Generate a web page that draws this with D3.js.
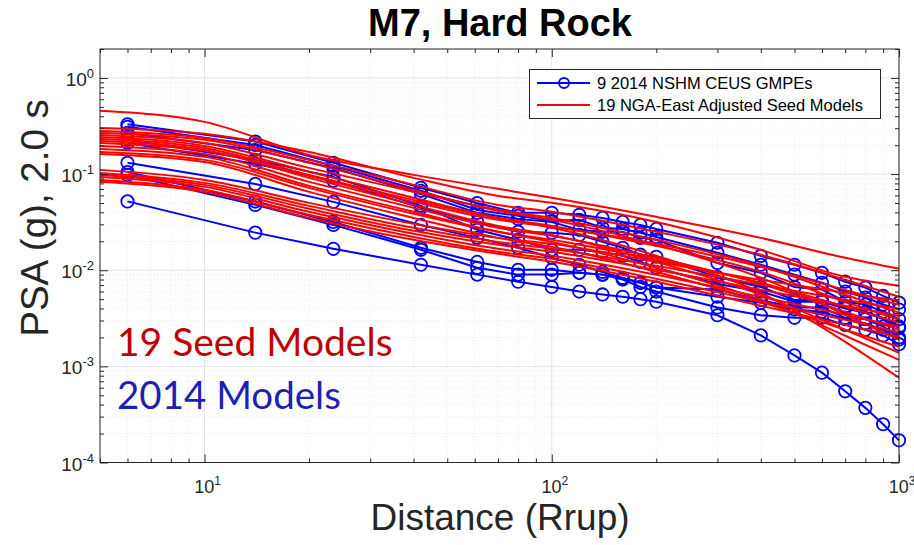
<!DOCTYPE html>
<html><head><meta charset="utf-8">
<script src="https://cdn.jsdelivr.net/npm/d3@7"></script>
<style>body{margin:0;background:#fff}svg{display:block}</style>
</head><body><svg id="chart" width="914" height="545"></svg>
<script>
// ---------- DATA ----------
const blueDistances = [6,14,23.5,42,61,80,100,120,140,160,180,200,300,400,500,600,700,800,900,1000];
const blueModel1 = [0.33,0.218,0.131,0.072,0.050,0.0395,0.0395,0.0377,0.035,0.0318,0.0296,0.0269,0.0193,0.0141,0.0114,0.0094,0.0076,0.0066,0.0054,0.0046];
const blueModel2 = [0.31,0.201,0.122,0.067,0.0424,0.0368,0.0326,0.0334,0.0276,0.0269,0.0245,0.0222,0.0152,0.0114,0.0090,0.0074,0.0060,0.0052,0.0044,0.0039];
const blueModel3 = [0.268,0.178,0.116,0.062,0.0395,0.0342,0.0318,0.0263,0.0251,0.0251,0.0217,0.0207,0.0119,0.0094,0.0067,0.0063,0.0047,0.0044,0.0037,0.0031];
const blueModel4 = [0.211,0.128,0.085,0.0445,0.0318,0.0251,0.0245,0.0233,0.0197,0.0171,0.0145,0.0138,0.0085,0.0067,0.0049,0.0049,0.0042,0.0037,0.0032,0.0026];
const blueModel5 = [0.227,0.1405,0.0935,0.0467,0.0263,0.0207,0.0163,0.0163,0.0155,0.0141,0.0122,0.0106,0.0072,0.0060,0.0047,0.0047,0.0040,0.0036,0.0031,0.0025];
const blueModel6 = [0.131,0.079,0.0514,0.0296,0.0217,0.0171,0.0135,0.0114,0.0096,0.0083,0.0074,0.0066,0.0063,0.0049,0.0041,0.0041,0.0032,0.0031,0.0026,0.0020];
const blueModel7 = [0.105,0.0518,0.0318,0.0171,0.0122,0.0101,0.0101,0.0094,0.0090,0.0080,0.0067,0.0060,0.0041,0.0034,0.0032,0.0032,0.0027,0.0024,0.0021,0.0017];
const blueModel8 = [0.098,0.0478,0.0296,0.0163,0.0106,0.0090,0.0090,0.0094,0.0090,0.0083,0.0074,0.0066,0.0053,0.0046,0.0039,0.0037,0.0031,0.0028,0.0024,0.0019];
const blueModel9 = [0.052,0.0246,0.0167,0.0114,0.0090,0.0076,0.0067,0.0060,0.0056,0.0053,0.0050,0.0047,0.0034,0.0021,0.0013,0.00086,0.00055,0.00037,0.00025,0.00017];

const redDistances = [5,10,20,40,70,100,200,400,700,1000];
const redModel1  = [0.457,0.349,0.158,0.0981,0.0702,0.0566,0.0359,0.0217,0.01345,0.01034];
const redModel2  = [0.302,0.262,0.170,0.0913,0.0593,0.0502,0.0318,0.0163,0.00854,0.00688];
const redModel3  = [0.281,0.238,0.1405,0.0772,0.0478,0.0405,0.0251,0.01446,0.00795,0.00529];
const redModel4  = [0.268,0.227,0.1307,0.0685,0.0415,0.0334,0.01837,0.00834,0.00344,0.00189];
const redModel5  = [0.2555,0.211,0.116,0.0653,0.0425,0.0350,0.0207,0.01111,0.00555,0.00361];
const redModel6  = [0.2436,0.1964,0.1054,0.0566,0.0350,0.0276,0.01412,0.00582,0.00180,0.000761];
const redModel7  = [0.2322,0.1872,0.0981,0.0539,0.0350,0.0289,0.01793,0.00962,0.00469,0.00305];
const redModel8  = [0.2214,0.1785,0.0913,0.0478,0.0289,0.0233,0.01223,0.00555,0.00240,0.001385];
const redModel9  = [0.211,0.1743,0.0958,0.0514,0.0334,0.0283,0.01881,0.01085,0.00625,0.00437];
const redModel10 = [0.1964,0.1622,0.0830,0.0445,0.0276,0.0228,0.01345,0.00722,0.00369,0.00240];
const redModel11 = [0.1828,0.1510,0.0754,0.0405,0.0251,0.0197,0.01059,0.00492,0.00208,0.00117];
const redModel12 = [0.170,0.1405,0.0719,0.0386,0.0251,0.0207,0.01283,0.00740,0.00416,0.00284];
const redModel13 = [0.1622,0.1339,0.0653,0.0350,0.0217,0.01751,0.00962,0.00469,0.00240,0.001598];
const redModel14 = [0.1106,0.0870,0.0502,0.0304,0.0217,0.01881,0.01223,0.00795,0.00582,0.00481];
const redModel15 = [0.1029,0.0810,0.0467,0.0276,0.0197,0.01669,0.01111,0.00705,0.00492,0.00397];
const redModel16 = [0.0981,0.0772,0.0435,0.0257,0.01837,0.01554,0.01010,0.00625,0.00427,0.00336];
const redModel17 = [0.0935,0.0736,0.0405,0.0239,0.01669,0.01412,0.00896,0.00529,0.00344,0.00258];
const redModel18 = [0.0870,0.0685,0.0377,0.0222,0.01554,0.01314,0.00814,0.00469,0.00305,0.00224];
const redModel19 = [0.0830,0.0653,0.0350,0.0207,0.01481,0.01223,0.00758,0.00427,0.00271,0.00203];

const xDomain = [5, 1000];
const yDomain = [1e-4, 2];
const xTickValues = [10, 100, 1000];
const xTickExponents = ["1", "2", "3"];
const yTickValues = [1e-4, 1e-3, 1e-2, 1e-1, 1];
const yTickExponents = ["-4", "-3", "-2", "-1", "0"];
const titleText = "M7, Hard Rock";
const xLabelText = "Distance (Rrup)";
const yLabelText = "PSA (g), 2.0 s";
const legendLabels = ["9 2014 NSHM CEUS GMPEs", "19 NGA-East Adjusted Seed Models"];
const noteLabels = ["19 Seed Models", "2014 Models"];

// ---------- CHART ----------
const blueSeries = [blueModel1,blueModel2,blueModel3,blueModel4,blueModel5,blueModel6,blueModel7,blueModel8,blueModel9];
const redSeries = [redModel1,redModel2,redModel3,redModel4,redModel5,redModel6,redModel7,redModel8,redModel9,redModel10,
  redModel11,redModel12,redModel13,redModel14,redModel15,redModel16,redModel17,redModel18,redModel19];

const L = 100, R = 899, T = 49, B = 462.5;
const svg = d3.select("#chart");
const axisColor = "#262626";
const font = "'Liberation Sans', Arial, Helvetica, sans-serif";

const x = d3.scaleLog().domain(xDomain).range([L, R]);
const y = d3.scaleLog().domain(yDomain).range([B, T]);

function minorTicks(domain) {
  const out = [];
  const lo = Math.floor(Math.log10(domain[0])), hi = Math.ceil(Math.log10(domain[1]));
  for (let e = lo; e <= hi; e++) for (let m = 2; m <= 9; m++) {
    const v = m * Math.pow(10, e);
    if (v >= domain[0] * 0.999 && v <= domain[1] * 1.001) out.push(v);
  }
  return out;
}
const xMinor = minorTicks(xDomain), yMinor = minorTicks(yDomain);

// grid
const grid = svg.append("g");
grid.selectAll(".gxm").data(xMinor).join("line")
  .attr("x1", d => x(d)).attr("x2", d => x(d)).attr("y1", T).attr("y2", B)
  .attr("stroke", "#ebebeb").attr("stroke-width", 1).attr("stroke-dasharray", "1,2");
grid.selectAll(".gym").data(yMinor).join("line")
  .attr("x1", L).attr("x2", R).attr("y1", d => y(d)).attr("y2", d => y(d))
  .attr("stroke", "#ebebeb").attr("stroke-width", 1).attr("stroke-dasharray", "1,2");
grid.selectAll(".gx").data(xTickValues).join("line")
  .attr("x1", d => x(d)).attr("x2", d => x(d)).attr("y1", T).attr("y2", B)
  .attr("stroke", "#e4e4e4").attr("stroke-width", 1);
grid.selectAll(".gy").data(yTickValues).join("line")
  .attr("x1", L).attr("x2", R).attr("y1", d => y(d)).attr("y2", d => y(d))
  .attr("stroke", "#e4e4e4").attr("stroke-width", 1);

// blue models
const blueLine = d3.line().x((d, i) => x(blueDistances[i])).y(d => y(d));
const gBlue = svg.append("g");
blueSeries.forEach(s => {
  gBlue.append("path").attr("d", blueLine(s)).attr("fill", "none")
    .attr("stroke", "#0000ff").attr("stroke-width", 2);
  gBlue.selectAll(null).data(s).join("circle")
    .attr("cx", (d, i) => x(blueDistances[i])).attr("cy", d => y(d)).attr("r", 6.2)
    .attr("fill", "none").attr("stroke", "#0000ff").attr("stroke-width", 1.8);
});

// red models
const redLine = d3.line().x((d, i) => x(redDistances[i])).y(d => y(d)).curve(d3.curveMonotoneX);
const gRed = svg.append("g");
redSeries.forEach(s => {
  gRed.append("path").attr("d", redLine(s)).attr("fill", "none")
    .attr("stroke", "#ff0000").attr("stroke-width", 2);
});

// axes (ticks inside, all four sides)
function styleAxis(g) {
  g.select(".domain").remove();
  g.selectAll("line").attr("stroke", axisColor);
  g.selectAll("text").remove();
}
svg.append("g").attr("transform", `translate(0,${B})`).call(d3.axisBottom(x).tickValues(xTickValues).tickSize(-8)).call(styleAxis);
svg.append("g").attr("transform", `translate(0,${B})`).call(d3.axisBottom(x).tickValues(xMinor).tickSize(-4)).call(styleAxis);
svg.append("g").attr("transform", `translate(0,${T})`).call(d3.axisTop(x).tickValues(xTickValues).tickSize(-8)).call(styleAxis);
svg.append("g").attr("transform", `translate(0,${T})`).call(d3.axisTop(x).tickValues(xMinor).tickSize(-4)).call(styleAxis);
svg.append("g").attr("transform", `translate(${L},0)`).call(d3.axisLeft(y).tickValues(yTickValues).tickSize(-8)).call(styleAxis);
svg.append("g").attr("transform", `translate(${L},0)`).call(d3.axisLeft(y).tickValues(yMinor).tickSize(-4)).call(styleAxis);
svg.append("g").attr("transform", `translate(${R},0)`).call(d3.axisRight(y).tickValues(yTickValues).tickSize(-8)).call(styleAxis);
svg.append("g").attr("transform", `translate(${R},0)`).call(d3.axisRight(y).tickValues(yMinor).tickSize(-4)).call(styleAxis);
svg.append("rect").attr("x", L).attr("y", T).attr("width", R - L).attr("height", B - T)
  .attr("fill", "none").attr("stroke", axisColor).attr("stroke-width", 1);

// tick labels
const xl = svg.append("g").attr("font-family", font).attr("fill", axisColor);
xTickValues.forEach((v, i) => {
  const t = xl.append("text").attr("x", x(v) + 3).attr("y", B + 30).attr("text-anchor", "middle").attr("font-size", 18);
  t.append("tspan").text("10");
  t.append("tspan").attr("dy", -8).attr("font-size", 12).text(xTickExponents[i]);
});
const yl = svg.append("g").attr("font-family", font).attr("fill", axisColor);
yTickValues.forEach((v, i) => {
  const t = yl.append("text").attr("x", L - 6).attr("y", y(v) + 8).attr("text-anchor", "end").attr("font-size", 19);
  t.append("tspan").text("10");
  t.append("tspan").attr("dy", -8).attr("font-size", 13).text(yTickExponents[i]);
});

// titles
svg.append("text").attr("x", 500).attr("y", 36).attr("text-anchor", "middle")
  .attr("font-family", "'Liberation Sans Narrow', 'Liberation Sans', Arial, sans-serif")
  .attr("font-weight", "bold").attr("font-size", 38).attr("fill", "#000").text(titleText);
svg.append("text").attr("x", 500).attr("y", 530).attr("text-anchor", "middle")
  .attr("font-family", font).attr("font-size", 37).attr("fill", axisColor).text(xLabelText);
svg.append("text").attr("transform", `translate(48,218) rotate(-90)`).attr("text-anchor", "middle")
  .attr("font-family", font).attr("font-size", 38.5).attr("fill", axisColor).text(yLabelText);

// legend
const lg = svg.append("g");
lg.append("rect").attr("x", 529.5).attr("y", 69.5).attr("width", 351).attr("height", 49)
  .attr("fill", "#fff").attr("stroke", axisColor).attr("stroke-width", 1);
lg.append("line").attr("x1", 537).attr("x2", 590).attr("y1", 83).attr("y2", 83).attr("stroke", "#0000ff").attr("stroke-width", 2);
lg.append("circle").attr("cx", 564).attr("cy", 83).attr("r", 5).attr("fill", "none").attr("stroke", "#0000ff").attr("stroke-width", 1.8);
lg.append("line").attr("x1", 537).attr("x2", 590).attr("y1", 105).attr("y2", 105).attr("stroke", "#ff0000").attr("stroke-width", 2);
lg.selectAll("text.lt").data(legendLabels).join("text")
  .attr("x", 597).attr("y", (d, i) => 89 + i * 22).attr("font-family", font).attr("font-size", 16.5)
  .attr("fill", "#000").text(d => d);

// annotations
svg.append("text").attr("x", 117).attr("y", 356).attr("font-family", "Lato, 'Open Sans', sans-serif")
  .attr("font-size", 39).attr("fill", "#c00000").text(noteLabels[0]);
svg.append("text").attr("x", 117).attr("y", 409).attr("font-family", "Lato, 'Open Sans', sans-serif")
  .attr("font-size", 38.5).attr("fill", "#1f1fb4").text(noteLabels[1]);
</script></body></html>
